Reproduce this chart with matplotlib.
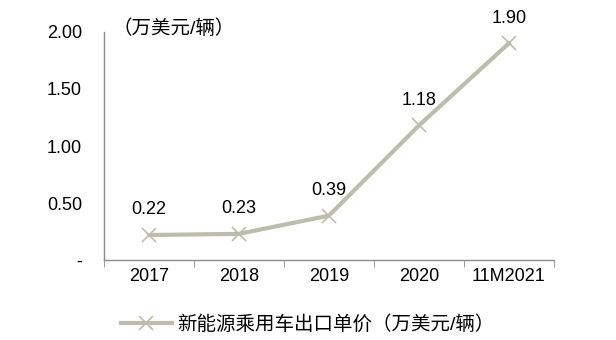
import matplotlib.pyplot as plt
import numpy as np

plt.rcParams['font.family'] = ['Liberation Sans', 'Noto Sans CJK SC', 'DejaVu Sans']

years = ['2017', '2018', '2019', '2020', '11M2021']
prices = [0.22, 0.23, 0.39, 1.18, 1.90]
yticks = [0, 0.5, 1.0, 1.5, 2.0]
ytick_labels = ['-', '0.50', '1.00', '1.50', '2.00']

line_color = '#bdbdad'
x = np.arange(len(years))

fig = plt.figure(figsize=(6.16, 3.4), dpi=100)
ax = fig.add_axes([0.169, 0.235, 0.73, 0.671])

ax.plot(x, prices, color=line_color, linewidth=3, marker='x', markersize=10,
        markeredgewidth=1.2, label='新能源乘用车出口单价（万美元/辆）')

for xi, v in zip(x, prices):
    ax.annotate(f'{v:.2f}', (xi, v), xytext=(0, 12), textcoords='offset points',
                ha='center', va='bottom', fontsize=13)

ax.set_xlim(-0.5, len(years) - 0.5)
ax.set_ylim(0, 2.0)
ax.set_yticks(yticks)
ax.set_yticklabels(ytick_labels, fontsize=13)
ax.tick_params(axis='y', length=0, pad=16)

# category labels centered, tick marks on the boundaries
ax.set_xticks(x)
ax.set_xticklabels(years, fontsize=13)
ax.tick_params(axis='x', which='major', length=0, pad=6)
ax.set_xticks(np.arange(-0.5, len(years)), minor=True)
ax.tick_params(axis='x', which='minor', length=5, color='#8c8c8c', direction='out')

for side in ['top', 'right']:
    ax.spines[side].set_visible(False)
for side in ['left', 'bottom']:
    ax.spines[side].set_color('#8c8c8c')
    ax.spines[side].set_linewidth(1)

fig.text(0.183, 0.915, '（万美元/辆）', fontsize=14, ha='left', va='center')

fig.legend(loc='center', bbox_to_anchor=(0.5, 0.045), frameon=False,
           fontsize=14, handlelength=2.6, handletextpad=0.3)

fig.savefig('out.png', dpi=100)
